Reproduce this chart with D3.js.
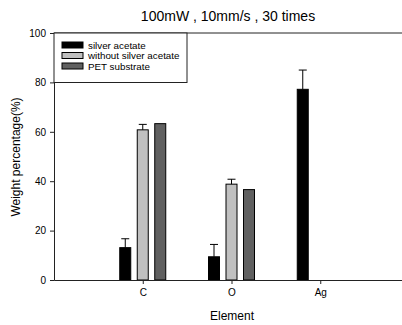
<!DOCTYPE html>
<html lang="en">
  <head>
    <meta charset="UTF-8" />
    <title>Weight percentage by element</title>
    <script src="https://d3js.org/d3.v7.min.js"></script>
    <style>
      body { margin: 0; background: #fff; }
      text { font-family: "Liberation Sans", Arial, sans-serif; fill: #000; }
    </style>
  </head>
  <body>
    <svg id="chart" width="402" height="325"></svg>

    <script>
      // data
      const elements = ["C", "O", "Ag"];
      const seriesNames = ["silver acetate", "without silver acetate", "PET substrate"];
      const seriesColors = ["#000000", "#c0c0c0", "#606060"];
      const silverAcetate = [13.1, 9.4, 77.2];
      const silverAcetateErr = [3.6, 5.0, 7.8];
      const withoutSilver = [60.8, 38.8, 0];
      const withoutSilverErr = [2.2, 2.0, 0];
      const petSubstrate = [63.3, 36.6, 0];
      const yTicks = [0, 20, 40, 60, 80, 100];

      const values = [silverAcetate, withoutSilver, petSubstrate];
      const errors = [silverAcetateErr, withoutSilverErr, null];

      const svg = d3.select("#chart");
      const plotLeft = 54, plotTop = 33, plotBottom = 280, plotRight = 409;

      // x is a plain position axis: C at 1, O at 2, Ag at 3
      const x = d3.scaleLinear().domain([0, 4]).range([plotLeft, plotRight]);
      const y = d3.scaleLinear().domain([0, 100]).range([plotBottom, plotTop]);
      const barW = 11;
      const offsets = [-17.5, 0, 17.5];

      // title
      svg.append("text")
        .attr("x", 228).attr("y", 21)
        .attr("text-anchor", "middle")
        .style("font-size", "14px")
        .text("100mW , 10mm/s , 30 times");

      // bars
      values.forEach((vals, s) => {
        vals.forEach((v, i) => {
          if (v <= 0) return;
          const cx = x(i + 1) + offsets[s];
          svg.append("rect")
            .attr("x", cx - barW / 2)
            .attr("y", y(v))
            .attr("width", barW)
            .attr("height", y(0) - y(v))
            .attr("fill", seriesColors[s])
            .attr("stroke", "#000")
            .attr("stroke-width", 1);
          // upper error bar
          if (errors[s] && errors[s][i] > 0) {
            const ey = y(v + errors[s][i]);
            svg.append("line")
              .attr("x1", cx).attr("x2", cx)
              .attr("y1", y(v)).attr("y2", ey)
              .attr("stroke", "#000");
            svg.append("line")
              .attr("x1", cx - 4).attr("x2", cx + 4)
              .attr("y1", ey).attr("y2", ey)
              .attr("stroke", "#000");
          }
        });
      });

      // axes
      const yAxis = svg.append("g")
        .attr("transform", `translate(${plotLeft},0)`)
        .call(d3.axisLeft(y).tickValues(yTicks).tickSize(4).tickPadding(4));
      const xAxis = svg.append("g")
        .attr("transform", `translate(0,${plotBottom})`)
        .call(d3.axisBottom(x).tickValues([1, 2, 3])
          .tickFormat((d) => elements[d - 1])
          .tickSizeInner(4).tickSizeOuter(0).tickPadding(5));
      [yAxis, xAxis].forEach((g) => {
        g.selectAll("text").style("font-size", "10px").attr("fill", "#000");
        g.selectAll("line, path").attr("stroke", "#222");
      });

      // top border
      svg.append("line")
        .attr("x1", plotLeft).attr("x2", plotRight)
        .attr("y1", plotTop).attr("y2", plotTop)
        .attr("stroke", "#222");

      // axis titles
      svg.append("text")
        .attr("transform", `translate(20,157) rotate(-90)`)
        .attr("text-anchor", "middle")
        .style("font-size", "12px")
        .text("Weight percentage(%)");
      svg.append("text")
        .attr("x", 232).attr("y", 320)
        .attr("text-anchor", "middle")
        .style("font-size", "12px")
        .text("Element");

      // legend
      svg.append("rect")
        .attr("x", plotLeft).attr("y", plotTop)
        .attr("width", 133).attr("height", 49.5)
        .attr("fill", "#fff").attr("stroke", "#222");
      seriesNames.forEach((name, s) => {
        const ly = 45 + s * 10.5;
        svg.append("rect")
          .attr("x", 62).attr("y", ly - 3)
          .attr("width", 21).attr("height", 6)
          .attr("fill", seriesColors[s]).attr("stroke", "#000");
        svg.append("text")
          .attr("x", 88).attr("y", ly + 3.5)
          .style("font-size", "9.8px")
          .text(name);
      });
    </script>
  </body>
</html>
